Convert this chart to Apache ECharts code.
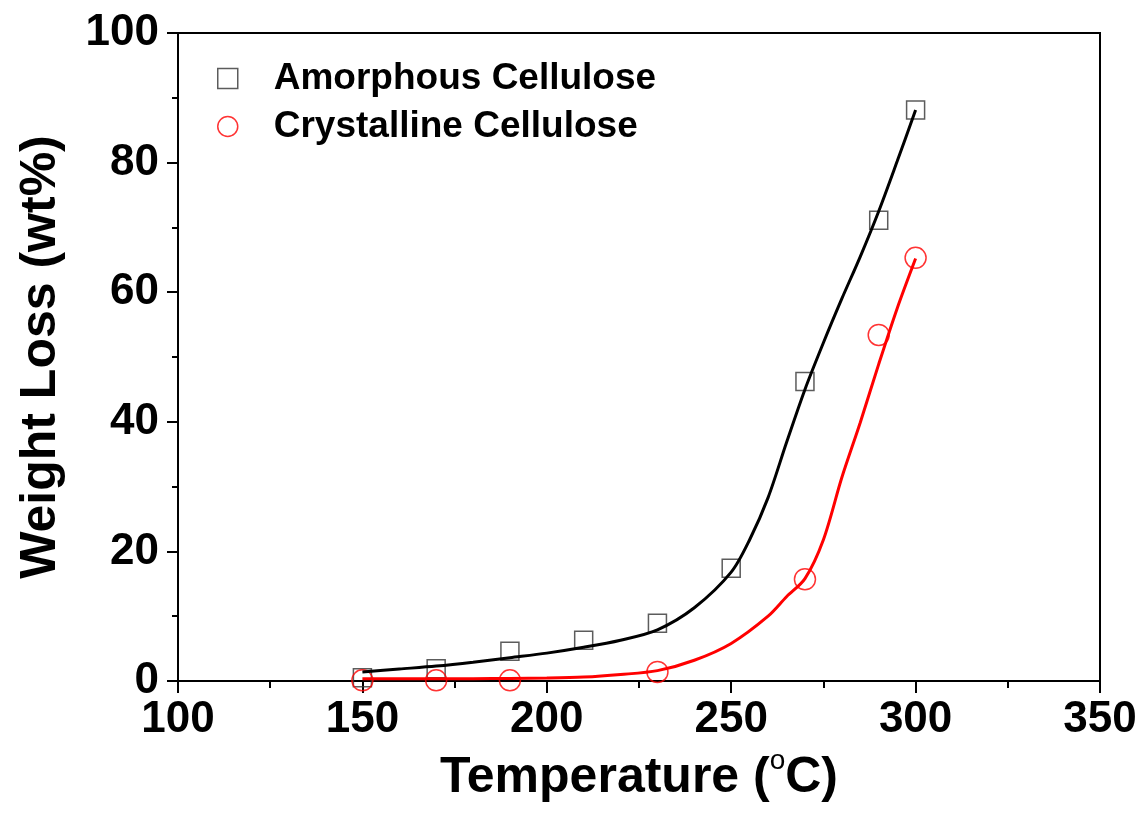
<!DOCTYPE html>
<html>
<head>
<meta charset="utf-8">
<script src="https://cdn.jsdelivr.net/npm/echarts@6/dist/echarts.min.js"></script>
<style>
html,body{margin:0;padding:0;background:#fff;}
#chart{width:1140px;height:816px;}
</style>
</head>
<body>
<div id="chart"></div>
<script>
// Measured data points
const amorphousTemp = [150, 170, 190, 210, 230, 250, 270, 290, 300];
const amorphousLoss = [0.5, 1.9, 4.6, 6.3, 8.9, 17.4, 46.2, 71.1, 88.1];
const crystallineTemp = [150, 170, 190, 230, 270, 290, 300];
const crystallineLoss = [0.1, 0.1, 0.1, 1.4, 15.7, 53.4, 65.3];

// Fitted curves
const amorphousFitTemp = [150, 160, 170, 180, 190, 200, 210, 220, 230, 240, 250, 255, 260, 265, 270, 275, 280, 285, 290, 295, 300];
const amorphousFitLoss = [1.4, 1.85, 2.3, 2.9, 3.6, 4.3, 5.2, 6.3, 7.9, 11.3, 16.8, 21.8, 28.3, 36.8, 45.0, 52.2, 59.0, 65.5, 72.5, 80.2, 88.1];
const crystallineFitTemp = [150, 160, 170, 180, 190, 200, 210, 220, 230, 240, 250, 260, 265, 270, 275, 280, 285, 290, 295, 300];
const crystallineFitLoss = [0.35, 0.35, 0.35, 0.35, 0.4, 0.45, 0.6, 1.0, 1.6, 3.2, 5.8, 10.0, 13.0, 15.8, 21.8, 31.4, 39.9, 48.9, 57.5, 65.2];

// Axis settings
const xTicks = { min: 100, max: 350, interval: 50 };
const yTicks = { min: 0, max: 100, interval: 20 };
const xTitle = 'Temperature ({sup|o}C)';
const yTitle = 'Weight Loss (wt%)';
const seriesNames = ['Amorphous Cellulose', 'Crystalline Cellulose'];

const pair = (xs, ys) => xs.map((x, i) => [x, ys[i]]);
const FONT = '"Liberation Sans", Arial, sans-serif';

const chart = echarts.init(document.getElementById('chart'), null, { renderer: 'canvas' });
chart.setOption({
  backgroundColor: '#fff',
  animation: false,
  grid: {
    left: 178, right: 40, top: 33, bottom: 135,
    show: true, borderColor: '#000', borderWidth: 2, backgroundColor: 'transparent'
  },
  legend: {
    orient: 'vertical',
    left: 212, top: 55,
    itemWidth: 20, itemHeight: 20, itemGap: 11,
    textStyle: { fontFamily: FONT, fontWeight: 'bold', fontSize: 37, color: '#000', padding: [0, 0, 0, 31] },
    data: [
      { name: seriesNames[0], icon: 'rect', itemStyle: { color: 'rgba(0,0,0,0)', borderColor: '#333', borderWidth: 1.5 } },
      { name: seriesNames[1], icon: 'circle', itemStyle: { color: 'rgba(0,0,0,0)', borderColor: '#ff0000', borderWidth: 1.5 } }
    ]
  },
  xAxis: {
    type: 'value',
    min: xTicks.min, max: xTicks.max, interval: xTicks.interval,
    name: xTitle,
    nameLocation: 'middle',
    nameGap: 58,
    nameTextStyle: {
      fontFamily: FONT, fontWeight: 'bold', fontSize: 50, color: '#000',
      rich: { sup: { fontFamily: FONT, fontSize: 28, fontWeight: 'normal', color: '#000', padding: [0, 0, 34, 0] } }
    },
    axisLine: { show: true, lineStyle: { color: '#000', width: 2 } },
    axisTick: { show: true, inside: false, length: 12, lineStyle: { color: '#000', width: 2 } },
    minorTick: { show: true, splitNumber: 2, length: 7, lineStyle: { color: '#000', width: 2 } },
    axisLabel: { margin: 17, fontFamily: FONT, fontWeight: 'bold', fontSize: 44, color: '#000' },
    splitLine: { show: false }
  },
  yAxis: {
    type: 'value',
    min: yTicks.min, max: yTicks.max, interval: yTicks.interval,
    name: yTitle,
    nameLocation: 'middle',
    nameGap: 112,
    nameRotate: 90,
    nameTextStyle: { fontFamily: FONT, fontWeight: 'bold', fontSize: 50, color: '#000' },
    axisLine: { show: true, lineStyle: { color: '#000', width: 2 } },
    axisTick: { show: true, inside: false, length: 11, lineStyle: { color: '#000', width: 2 } },
    minorTick: { show: true, splitNumber: 2, length: 6, lineStyle: { color: '#000', width: 2 } },
    axisLabel: { margin: 19, fontFamily: FONT, fontWeight: 'bold', fontSize: 44, color: '#000' },
    splitLine: { show: false }
  },
  series: [
    {
      name: 'amorphous fit', type: 'line', data: pair(amorphousFitTemp, amorphousFitLoss),
      smooth: 0.3, showSymbol: false, symbol: 'none',
      lineStyle: { color: '#000', width: 3 }, z: 3
    },
    {
      name: 'crystalline fit', type: 'line', data: pair(crystallineFitTemp, crystallineFitLoss),
      smooth: 0.3, showSymbol: false, symbol: 'none',
      lineStyle: { color: '#ff0000', width: 3 }, z: 3
    },
    {
      name: seriesNames[0], type: 'scatter', data: pair(amorphousTemp, amorphousLoss),
      symbol: 'rect', symbolSize: 18,
      itemStyle: { color: 'rgba(0,0,0,0)', borderColor: '#333', borderWidth: 1.5 }, z: 2
    },
    {
      name: seriesNames[1], type: 'scatter', data: pair(crystallineTemp, crystallineLoss),
      symbol: 'circle', symbolSize: 21,
      itemStyle: { color: 'rgba(0,0,0,0)', borderColor: '#ff0000', borderWidth: 1.5 }, z: 2
    }
  ]
});
</script>
</body>
</html>
